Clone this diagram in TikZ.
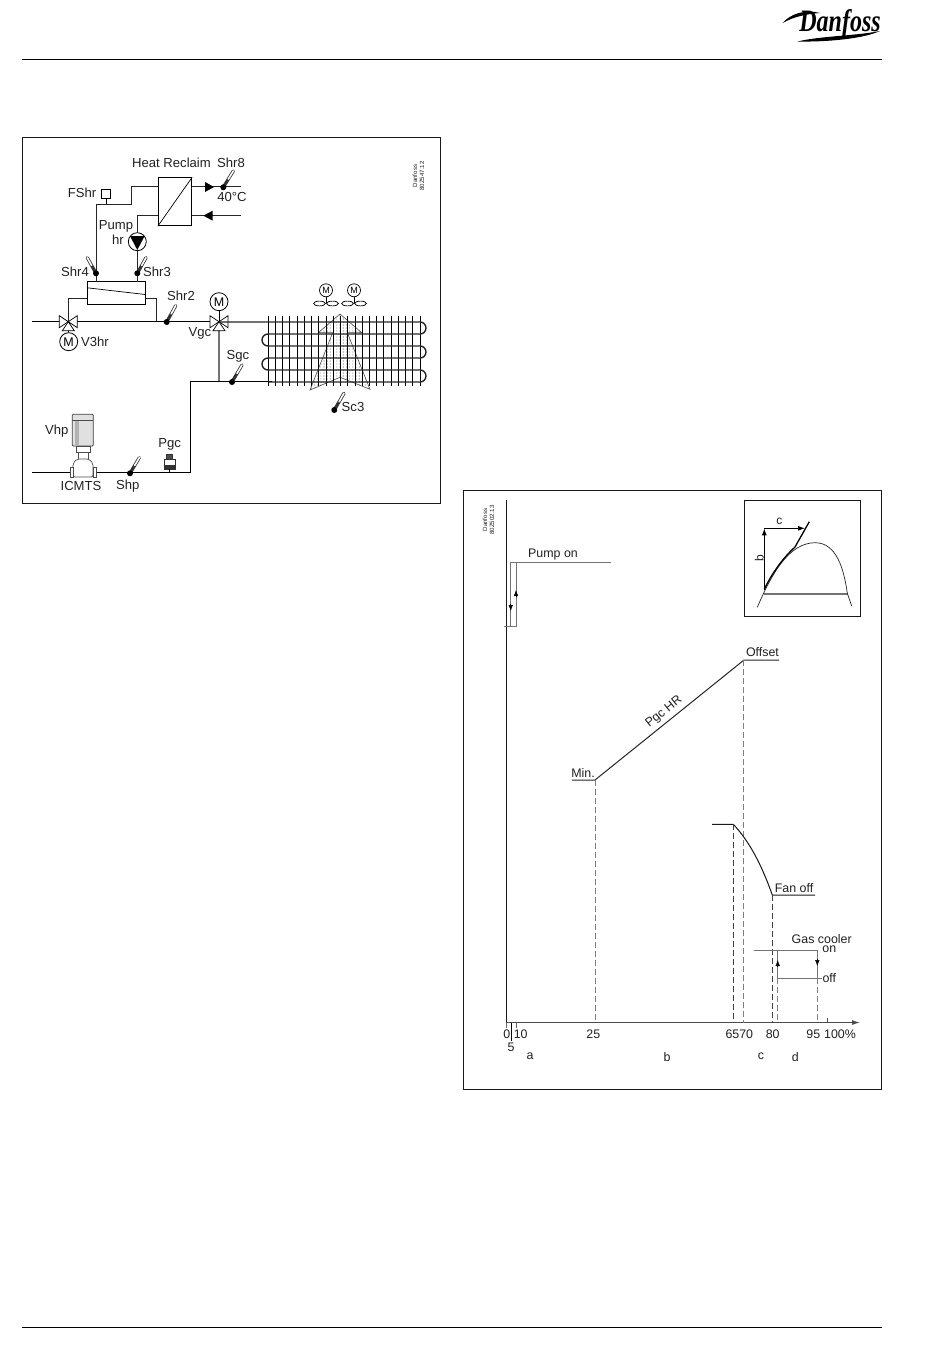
\documentclass[tikz,border=0pt]{standalone}
\usepackage{fontspec}
\usepackage{graphicx}
\setmainfont{Liberation Sans}
\newfontfamily\logofont{Liberation Serif}
\usetikzlibrary{arrows.meta,calc}
\definecolor{tc}{gray}{0.13}
\tikzset{
  x=1pt,y=-1pt,
  lbl/.style={font=\fontsize{13.1}{14}\selectfont,text=tc,inner sep=0pt,outer sep=0pt},
  tiny/.style={font=\fontsize{6.1}{7}\selectfont,text=tc,inner sep=0pt,align=center,rotate=90},
  pipe/.style={line width=1.5pt,black},
  thinpipe/.style={line width=1pt,black!85},
  grayline/.style={line width=1pt,black!55},
  dashline/.style={line width=0.8pt,black!75,dash pattern=on 6pt off 3pt},
  frame/.style={line width=0.8pt,black!90},
  motor/.style={circle,draw,line width=0.8pt,fill=white,inner sep=0pt,minimum size=18pt,font=\fontsize{12.5}{14}\selectfont},
  smotor/.style={circle,draw,line width=0.7pt,fill=white,inner sep=0pt,minimum size=13pt,font=\fontsize{9}{10}\selectfont},
  vtri/.style={draw,line width=0.7pt,fill=white},
  tip/.style={-{Latex[length=6pt,width=4.5pt]}}
}
\newcommand{\tsensor}[2]{%
  \draw[line width=3.2pt,black!80,line cap=round] (#1) -- (#2);
  \draw[line width=1.6pt,white,line cap=round] ($(#1)!0.5!(#2)$) -- (#2);
  \fill[black] (#1) circle (3);
}
\newcommand{\valvethree}[1]{%
  \draw[vtri] (#1) -- +(-9,-6) -- +(-9,6) -- cycle;
  \draw[vtri] (#1) -- +(9,-6) -- +(9,6) -- cycle;
  \draw[vtri] (#1) -- +(-6,9) -- +(6,9) -- cycle;
}
\begin{document}
\begin{tikzpicture}
\useasboundingbox (0,0) rectangle (950,1367);
\fill[white] (0,0) rectangle (950,1367);
% header / footer
\coordinate (hl) at (22,59.3); \coordinate (hr) at (882,59.3);
\coordinate (fl) at (22,1327); \coordinate (fr) at (882,1327);
\draw[line width=0.9pt] (hl) -- (hr);
\draw[line width=0.9pt] (fl) -- (fr);
% logo
\fill[black] (782.7,23) .. controls (790,14) and (805,9) .. (820,13) .. controls (806,14) and (793,17) .. (782.7,23) -- cycle;
\fill[black] (797.5,41.5) .. controls (820,36) and (855,36) .. (880,31) .. controls (860,40) and (820,42) .. (797.5,41.5) -- cycle;
\node[inner sep=0pt] (logo) at (840,24) {\scalebox{1}[1.3]{\logofont\bfseries\itshape\fontsize{24}{26}\selectfont Danfoss}};
% left frame
\draw[frame] (22,137) rectangle (440,503);
\node[tiny] (lcode) at (418.5,176) {Danfoss\\80Z547.12};
% heat exchanger
\node[draw,line width=1pt,minimum width=33.4pt,minimum height=48pt,inner sep=0pt,fill=white] (hx) at (175,201.7) {};
\draw[line width=0.7pt] (hx.south west) -- (hx.north east);
% reclaim box
\node[draw,line width=1pt,minimum width=58pt,minimum height=23.3pt,inner sep=0pt] (rb) at (116.3,293.3) {};
\draw[line width=0.7pt] (rb.north west) ++(0,6.6) -- ++(58,6.7);
% coordinates
\coordinate (ct1) at (131.7,187); \coordinate (ct2) at (131.7,204.3); \coordinate (ct3) at (96,204.3);
\coordinate (c4) at (96,281.7); \coordinate (c5) at (137.3,215.7); \coordinate (c6) at (137.3,281.7);
\coordinate (v3) at (68.3,321.7); \coordinate (vg) at (219,321.7);
\coordinate (mainl) at (31.7,321.7); \coordinate (c8) at (156,321.7);
\coordinate (in40) at (241,187); \coordinate (ret) at (241,215.7);
\draw[thinpipe] (hx.west |- ct1) -- (ct1) -- (ct2) -- (ct3) -- (c4);
\draw[thinpipe] (hx.west |- c5) -- (c5) -- (c6);
\draw[thinpipe] (hx.east |- in40) -- (in40);
\draw[thinpipe] (hx.east |- ret) -- (ret);
\draw[thinpipe] (rb.west |- 0,298.3) -| (v3);
\draw[thinpipe] (rb.east |- 0,298.3) -| (c8);
\fill (205,182) -- (214,187) -- (205,192) -- cycle;
\fill (212.7,210.7) -- (203.3,215.7) -- (212.7,220.7) -- cycle;
% FShr
\node[draw,line width=0.7pt,fill=white,minimum size=8.5pt,inner sep=0pt] (fs) at (106,193.8) {};
\draw[line width=0.7pt] (fs) -- (fs |- ct3);
% pump
\node[circle,draw,line width=0.8pt,fill=white,minimum size=18pt,inner sep=0pt] (pump) at (137.3,241.7) {};
\fill (130,236) -- (144.6,236) -- (137.3,250) -- cycle;
% main line
\draw[pipe] (mainl) -- (vg);
\draw[grayline,line width=1.2pt] (vg) -- (219,381.7);
\draw[pipe] (31.7,472.7) -- (190.7,472.7) -- (190.7,381.7) -- (272,381.7);
\node[motor] (m1) at (68.7,341.7) {M};
\draw[line width=0.7pt] (v3) -- (m1);
\node[motor] (m2) at (219,301.7) {M};
\draw[line width=0.7pt] (vg) -- (m2);
\valvethree{v3}
\valvethree{vg}
% fan plume
\begin{scope}
\clip (340,314) -- (318.3,332.7) -- (332.7,332.7) -- (310,390) -- (340,377.3) -- (370,389.3) -- (347.3,332.7) -- (361.7,332.7) -- cycle;
\foreach \ix in {0,...,20} \foreach \iy in {0,...,26}
  \fill[black!55] (308+\ix*3.2,313+\iy*3.0) circle (0.55);
\end{scope}
\draw[line width=0.6pt,black!70]
 (340,314) -- (318.3,332.7) -- (332.7,332.7) -- (310,390) -- (340,377.3) -- (370,389.3) -- (347.3,332.7) -- (361.7,332.7) -- cycle;
% fins
\foreach \i in {0,...,21} \draw[line width=1pt] (268.3+\i*7.23,315.7) -- (268.3+\i*7.23,385.7);
% coil
\draw[line width=1.4pt,black!85]
 (219,322) -- (420,322) arc[start angle=-90,end angle=90,radius=6] -- (268,334) arc[start angle=270,end angle=90,radius=6]
 -- (420,346) arc[start angle=-90,end angle=90,radius=6] -- (268,358) arc[start angle=270,end angle=90,radius=6]
 -- (420,370) arc[start angle=-90,end angle=90,radius=6] -- (268,382);
% fans
\foreach \n/\x in {fa/326,fb/354}{
  \node[smotor] (\n) at (\x,290.3) {M};
  \draw[line width=0.7pt] (\n) -- (\x,303.3);
  \draw[line width=0.7pt,fill=white] (\x-6.5,303.5) ellipse [x radius=6,y radius=2.4];
  \draw[line width=0.7pt,fill=white] (\x+6.5,303.5) ellipse [x radius=6,y radius=2.4];
}
% sensors
\tsensor{96,273.3}{87.3,257.7}
\tsensor{137.3,273.3}{146,257.7}
\tsensor{223.3,187.3}{233.3,171}
\tsensor{166.7,322}{175.7,305.7}
\tsensor{232,382}{242,365}
\tsensor{334.3,410}{344,393.3}
\tsensor{130,473.3}{139.3,457.7}
% Vhp
\draw[line width=0.8pt,black!75,fill=black!12,rounded corners=1pt] (72.3,414.3) rectangle (93.3,446);
\draw[line width=0.7pt,black!70] (72.3,420) -- (93.3,420);
\fill[black!30] (75,420.5) rectangle (79,445.5);
\draw[line width=0.7pt,black!70,fill=white] (76,446) rectangle (90,452);
\draw[line width=0.7pt,black!70,fill=white] (78,452) rectangle (88,459);
\draw[line width=0.7pt,black!70,fill=white,rounded corners=2pt] (73,463.3) -- (77,459) -- (89,459) -- (93,463.3) -- (93,477) -- (73,477) -- cycle;
\draw[line width=0.7pt,black!70,fill=white] (70,467) rectangle (73,477);
\draw[line width=0.7pt,black!70,fill=white] (93,467) rectangle (96,477);
% Pgc
\draw[line width=0.7pt,black!80,fill=white] (164.5,459) rectangle (175,469);
\draw[line width=0.7pt,black!80,fill=black!70] (166.5,454.5) rectangle (172.5,459);
\fill[black!80] (165,465) rectangle (174.5,469);
\draw[line width=1.1pt] (169.7,469) -- (169.7,473);
% left labels
\node[lbl] (t1) at (171.5,163) {Heat Reclaim};
\node[lbl] (t2) at (231,163) {Shr8};
\node[lbl] (t3) at (232,197) {40°C};
\node[lbl] (t4) at (82,193) {FShr};
\node[lbl] (t5) at (116,226) {Pump};
\node[lbl] (t6) at (118,240) {hr};
\node[lbl] (t7) at (75,272) {Shr4};
\node[lbl] (t8) at (157,272) {Shr3};
\node[lbl] (t9) at (181,296) {Shr2};
\node[lbl] (t10) at (200,333) {Vgc};
\node[lbl] (t11) at (95,341.5) {V3hr};
\node[lbl] (t12) at (238,356) {Sgc};
\node[lbl] (t13) at (353,407) {Sc3};
\node[lbl] (t14) at (56.7,431) {Vhp};
\node[lbl] (t15) at (169.7,444) {Pgc};
\node[lbl] (t16) at (81,485.7) {ICMTS};
\node[lbl] (t17) at (127.7,486) {Shp};
% right frame
\draw[frame] (463,490) rectangle (881,1089);
\node[tiny] (rcode) at (488.5,520) {Danfoss\\80Z502.13};
% axes
\coordinate (o) at (506.3,1022.5); \coordinate (ytop) at (506.3,500); \coordinate (xend) at (860,1022.5);
\draw[line width=1.1pt,black!90] (ytop) -- (o);
\draw[line width=1pt,black!70,-{Latex[length=8pt,width=5pt]}] (o) -- (xend);
\draw[line width=0.6pt,black!60] (o) -- (506.3,1028);
\draw[line width=0.9pt,black] (511.3,1022.5) -- (511.3,1040.7);
\draw[line width=0.6pt,black!60] (516,1022.5) -- (516,1028);
\draw[line width=0.7pt,black!70] (827.3,1017.5) -- (827.3,1022.5);
% pump on
\draw[grayline] (510.7,626) -- (510.7,562.7) -- (611,562.7);
\draw[grayline] (504.3,626) -- (516,626) -- (516,562.7);
\draw[line width=0.5pt,tip] (516,597) -- (516,590);
\draw[line width=0.5pt,tip] (510.7,604) -- (510.7,611);
% Pgc HR
\coordinate (minp) at (595,780); \coordinate (offp) at (744,660);
\draw[line width=1pt,black!85] (572,780) -- (minp) -- (offp) -- (779,660);
\draw[dashline,black!50] (minp) -- (minp |- o);
\draw[dashline,black!50] (743.5,660) -- (743.5,1022.5);
% fan curve
\coordinate (f1) at (733.3,824.3); \coordinate (f2) at (772.3,895);
\draw[line width=1pt,black!90] (712,824.3) -- (f1) .. controls (750,842) and (762,866) .. (f2) -- (815,895);
\draw[dashline] (f1) -- (f1 |- o);
\draw[dashline] (f2) -- (f2 |- o);
% gas cooler
\coordinate (g1) at (777.7,950); \coordinate (g2) at (817.3,950); \coordinate (g3) at (777.7,978.3); \coordinate (g4) at (817.3,978.3);
\draw[grayline] (754,950) -- (g2) -- (g4);
\draw[grayline] (g1) -- (g3) -- (g4) -- (822,978.3);
\draw[dashline,black!50] (g3) -- (g3 |- o);
\draw[dashline,black!50] (g4) -- (g4 |- o);
\draw[line width=0.5pt,tip] (777.7,967) -- (777.7,960);
\draw[line width=0.5pt,tip] (817.3,959) -- (817.3,966);
% inset
\draw[frame] (744.3,500) rectangle (860,616.7);
\draw[grayline,line width=1.1pt] (764.3,594) -- (848,594);
\draw[line width=0.7pt,black!85] (757.3,607.3) .. controls (772,573) and (789,543) .. (815,542.7) .. controls (837,542.7) and (844,570) .. (847.3,593.3) -- (851.7,606);
\draw[line width=1.3pt] (764.3,589.3) .. controls (772,573) and (783,558) .. (795,547) -- (809.3,521.7);
\draw[line width=1pt,-{Latex[length=7pt,width=5pt]}] (764.3,590) -- (764.3,528.3);
\draw[line width=1pt,-{Latex[length=7pt,width=5pt]}] (764.3,528.3) -- (805,528.3);
\node[lbl,font=\fontsize{12}{13}\selectfont] (ic) at (779.3,521.5) {c};
\node[lbl,font=\fontsize{12}{13}\selectfont,rotate=90] (ib) at (759.3,558.3) {b};
% right labels
\def\rl{\fontsize{12.4}{13}\selectfont}
\node[lbl,font=\rl] (r1) at (553,555) {Pump on};
\node[lbl,font=\rl] (r2) at (762.5,652.5) {Offset};
\node[lbl,font=\rl] (r3) at (583,773) {Min.};
\node[lbl,font=\rl,rotate=39] (r4) at (664,712) {Pgc HR};
\node[lbl,font=\rl] (r5) at (794,887.7) {Fan off};
\node[lbl,font=\rl] (r6) at (821.7,939.3) {Gas cooler};
\node[lbl,font=\rl] (r7) at (829.3,949.3) {on};
\node[lbl,font=\rl] (r8) at (829.3,977.7) {off};
\node[lbl,font=\rl] (a0) at (506.7,1034) {0};
\node[lbl,font=\rl] (a10) at (520.7,1034) {10};
\node[lbl,font=\rl] (a5) at (511,1047.7) {5};
\node[lbl,font=\rl] (a25) at (593.3,1034) {25};
\node[lbl,font=\rl] (a65) at (739.3,1034) {6570};
\node[lbl,font=\rl] (a80) at (772.7,1034) {80};
\node[lbl,font=\rl] (a95) at (813.3,1034) {95};
\node[lbl,font=\rl] (a100) at (840,1034) {100\%};
\node[lbl,font=\rl] (la) at (530,1056.7) {a};
\node[lbl,font=\rl] (lb) at (667,1056.7) {b};
\node[lbl,font=\rl] (lc) at (761,1056.7) {c};
\node[lbl,font=\rl] (ld) at (795.3,1056.7) {d};
\end{tikzpicture}
\end{document}
